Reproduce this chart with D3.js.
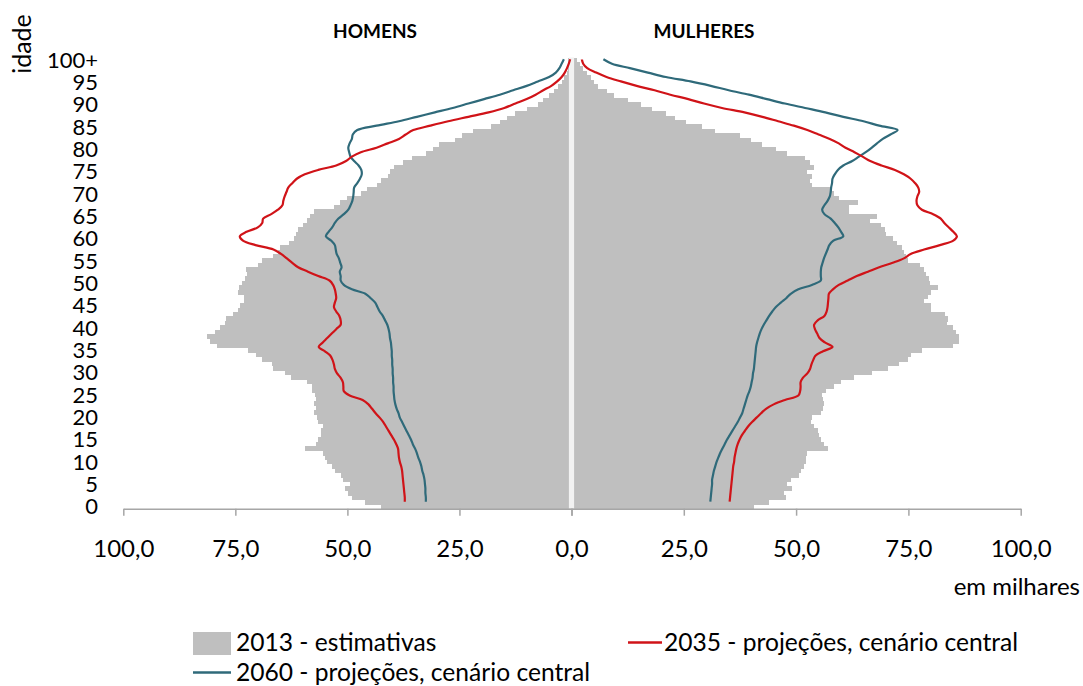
<!DOCTYPE html>
<html><head><meta charset="utf-8">
<script src="https://cdn.jsdelivr.net/npm/d3@7"></script>
<style>
body{margin:0;background:#fff;}
svg{display:block;font-family:Lato,"Open Sans",sans-serif;}
</style>
</head><body>
<svg id="chart" width="1083" height="686"></svg>
<script>
// ---------- data (milhares) ----------
const ages = d3.range(0, 101);               // 0 ... 100+
const ageTickValues = d3.range(0, 101, 5);
const ageTickLabels = ageTickValues.map(a => a === 100 ? "100+" : String(a));
const xTickValues = [0, 25, 50, 75, 100];

const homens2013 = [
 42.4,46.1,49.0,49.8,50.5,49.5,51.0,51.5,52.8,53.5,
 54.5,55.0,55.5,59.5,57.0,56.5,55.8,56.0,55.5,56.5,
 56.8,57.5,57.0,57.5,57.0,57.3,57.8,58.0,59.0,62.5,
 64.0,66.5,66.8,69.0,70.3,72.2,79.2,80.7,81.4,79.6,
 78.5,77.4,77.0,75.5,74.5,74.0,73.0,73.0,74.4,74.2,
 73.5,72.8,72.5,72.7,70.0,69.0,66.5,65.5,65.0,63.0,
 62.0,61.5,61.0,60.0,59.0,58.3,57.5,53.0,51.7,50.0,
 47.0,45.7,43.5,42.4,41.0,40.5,39.5,37.5,35.5,32.5,
 31.0,29.5,26.0,24.5,22.0,18.0,16.0,14.5,12.5,10.0,
 7.5,6.3,5.0,3.8,3.0,2.2,1.6,1.1,0.8,0.5,
 0.8];
const mulheres2013 = [
 40.6,44.0,47.8,47.3,49.1,48.0,48.8,50.6,51.0,51.7,
 52.2,52.2,52.5,57.0,56.2,55.5,55.0,54.8,54.0,53.3,
 53.5,55.5,56.0,56.3,56.0,55.8,56.6,58.5,60.0,63.0,
 67.0,70.5,73.0,74.8,75.5,78.0,85.0,86.3,86.3,85.6,
 85.0,83.5,83.9,83.1,80.0,80.0,78.5,79.3,80.0,81.6,
 79.8,79.5,79.0,78.5,77.5,75.0,74.5,74.0,73.5,72.5,
 71.5,70.0,69.8,68.8,66.5,68.0,61.8,61.8,63.7,59.5,
 58.5,58.0,53.5,53.0,53.5,52.5,54.0,53.0,52.0,48.0,
 45.5,42.5,40.0,37.5,32.0,29.0,25.5,23.0,21.0,18.0,
 15.5,12.5,9.5,8.0,6.0,5.0,4.3,3.5,2.6,1.8,
 1.2];
const homens2035 = [
 37.2,37.2,37.3,37.4,37.5,37.6,37.7,37.8,38.0,38.3,
 38.5,38.6,38.7,39.1,39.6,40.2,40.8,41.4,42.0,42.8,
 43.7,44.5,45.3,46.6,49.5,50.8,50.9,51.0,51.5,52.3,
 52.8,53.0,53.3,53.8,55.0,56.4,55.5,54.5,53.5,52.5,
 51.5,51.5,51.8,52.5,53.0,52.8,52.5,52.6,52.8,53.2,
 54.0,56.5,58.8,61.0,62.3,63.5,64.8,66.5,70.5,73.3,
 74.0,72.5,70.0,69.0,68.8,67.0,65.5,64.5,64.3,64.0,
 63.6,63.2,62.3,61.3,59.5,56.5,52.5,50.3,49.0,47.0,
 43.5,41.0,38.5,37.0,35.3,31.5,27.5,23.0,18.5,15.0,
 12.5,10.0,8.0,6.3,4.5,3.2,2.2,1.5,1.0,0.6,
 0.3];
const mulheres2035 = [
 35.2,35.3,35.4,35.5,35.6,35.7,35.8,35.9,36.0,36.2,
 36.3,36.5,36.7,37.0,37.4,37.9,38.6,39.3,40.2,41.2,
 42.2,43.3,45.0,47.5,50.5,50.9,51.0,51.0,51.5,52.5,
 53.1,53.4,53.8,54.3,56.0,58.1,56.4,55.2,54.7,54.2,
 54.0,54.8,56.3,56.8,57.0,57.1,57.2,57.3,58.2,59.5,
 61.5,63.5,66.0,68.5,71.5,74.0,75.5,78.5,82.0,85.0,
 85.8,85.0,84.0,83.0,82.2,80.5,78.0,77.0,76.8,77.0,
 77.4,77.2,76.5,75.5,74.0,72.0,69.0,66.5,64.8,63.0,
 61.0,59.5,57.5,55.0,52.5,49.5,46.0,42.5,38.5,33.5,
 29.5,26.0,22.0,18.5,14.5,11.0,7.8,5.5,3.5,2.6,
 2.3];
const homens2060 = [
 32.5,32.5,32.6,32.6,32.7,32.8,33.0,33.3,33.5,33.8,
 34.2,34.5,34.9,35.4,35.8,36.3,36.8,37.3,37.8,38.3,
 38.6,39.0,39.3,39.5,39.6,39.7,39.7,39.8,39.8,39.9,
 39.9,40.0,40.0,40.1,40.1,40.2,40.3,40.5,40.6,40.8,
 41.1,41.6,42.1,42.8,43.3,43.8,44.8,46.0,49.0,50.8,
 51.5,51.5,51.7,51.3,51.6,51.9,52.4,52.6,52.8,53.6,
 54.8,54.2,53.4,52.8,52.0,50.8,49.8,49.3,48.9,48.7,
 48.6,48.5,47.8,47.2,46.8,46.9,47.5,48.5,49.3,49.6,
 49.8,49.5,49.0,48.8,47.8,43.5,38.5,34.5,30.5,26.5,
 23.0,19.5,16.0,13.0,10.0,7.5,5.0,3.5,2.7,2.2,
 1.7];
const mulheres2060 = [
 30.9,31.0,31.1,31.2,31.3,31.3,31.5,31.7,32.0,32.3,
 32.7,33.1,33.6,34.1,34.6,35.2,35.8,36.4,37.0,37.5,
 38.0,38.3,38.6,38.9,39.2,39.6,39.9,40.1,40.3,40.4,
 40.6,40.7,40.8,40.9,41.0,41.1,41.3,41.6,41.9,42.3,
 42.8,43.4,44.0,44.7,45.5,46.6,47.8,48.8,50.5,53.5,
 55.5,55.5,55.5,55.6,55.9,56.2,56.6,57.0,57.4,58.3,
 60.5,60.0,59.4,58.6,57.7,56.3,55.8,56.3,57.0,57.5,
 57.7,57.8,58.0,58.1,58.6,59.3,60.5,62.5,64.0,65.5,
 66.8,68.0,69.3,71.0,72.6,68.5,65.0,60.5,56.5,52.0,
 47.5,43.5,39.5,35.0,31.0,26.5,21.0,17.0,13.0,9.0,
 7.1];

const txt = {
  yTitle: "idade", left: "HOMENS", right: "MULHERES", unit: "em milhares",
  s2013: "2013 - estimativas",
  s2035: "2035 - projeções, cenário central",
  s2060: "2060 - projeções, cenário central"
};
const colors = { bar: "#bfbfbf", c2035: "#d01318", c2060: "#2f6a7a", axis: "#a6a6a6", stripe: "#f2f2f2" };

// ---------- scales ----------
const svg = d3.select("#chart");
svg.append("rect").attr("width",1083).attr("height",686).attr("fill","#fff");

const x0 = 571.5;
const xL = d3.scaleLinear().domain([0,100]).range([x0, 123.3]);
const xR = d3.scaleLinear().domain([0,100]).range([x0, 1020.7]);
const yB = d3.scaleBand().domain(ages).range([508.5, 57.5]).padding(0);
const yLn = d3.scaleLinear().domain([0,100]).range([501.7, 59.3]);
const bw = yB.bandwidth();

// ---------- bars ----------
const gBars = svg.append("g").attr("shape-rendering","crispEdges");
gBars.selectAll("rect.l").data(homens2013).join("rect").attr("class","l")
  .attr("x", d => xL(d)).attr("width", d => xL(0) - xL(d))
  .attr("y", (d,i) => yB(i)).attr("height", bw + 0.6).attr("fill", colors.bar);
gBars.selectAll("rect.r").data(mulheres2013).join("rect").attr("class","r")
  .attr("x", xR(0)).attr("width", d => xR(d) - xR(0))
  .attr("y", (d,i) => yB(i)).attr("height", bw + 0.6).attr("fill", colors.bar);
// centre stripe
svg.append("rect").attr("x", x0 - 2.6).attr("width", 5.2)
  .attr("y", yB(100)).attr("height", yB(0) + bw - yB(100)).attr("fill", colors.stripe);

// ---------- lines ----------
const lineL = d3.line().x(d => xL(d)).y((d,i) => yLn(i)).curve(d3.curveCatmullRom.alpha(0.5));
const lineR = d3.line().x(d => xR(d)).y((d,i) => yLn(i)).curve(d3.curveCatmullRom.alpha(0.5));
[[homens2060, lineL, colors.c2060],[mulheres2060, lineR, colors.c2060],
 [homens2035, lineL, colors.c2035],[mulheres2035, lineR, colors.c2035]].forEach(([d, gen, c]) => {
  svg.append("path").attr("d", gen(d)).attr("fill","none").attr("stroke", c)
    .attr("stroke-width", 2.2).attr("stroke-linejoin","round");
});

// ---------- x axis ----------
const fmt = v => d3.format(".1f")(v).replace(".", ",");
function styleAxis(g){
  g.select(".domain").attr("stroke", colors.axis).attr("stroke-width", 1.5);
  g.selectAll(".tick line").attr("stroke", colors.axis).attr("stroke-width", 1.5);
  g.selectAll(".tick text").attr("y", 48).attr("dy", 0)
    .attr("font-size", 24).attr("fill", "#000").attr("font-family","Lato,'Open Sans',sans-serif");
}
const axL = svg.append("g").attr("transform","translate(0,508.7)")
  .call(d3.axisBottom(xL).tickValues(xTickValues).tickSize(7).tickSizeOuter(0).tickFormat(fmt));
styleAxis(axL);
const axR = svg.append("g").attr("transform","translate(0,508.7)")
  .call(d3.axisBottom(xR).tickValues(xTickValues).tickSize(7).tickSizeOuter(0).tickFormat(fmt));
styleAxis(axR);
axR.selectAll(".tick").filter(d => d === 0).select("text").remove();

// ---------- y labels ----------
svg.append("g").selectAll("text").data(ageTickValues).join("text")
  .attr("x", 98).attr("y", d => yB(d) + bw/2).attr("dy", "0.36em")
  .attr("text-anchor","end").attr("font-size", 22).attr("fill","#000")
  .text((d,i) => ageTickLabels[i]);

svg.append("text").attr("transform","translate(31,44) rotate(-90)")
  .attr("text-anchor","middle").attr("font-size", 25).attr("fill","#000").text(txt.yTitle);

svg.append("text").attr("x", 375).attr("y", 38).attr("text-anchor","middle")
  .attr("font-size", 19).attr("font-weight","bold").attr("fill","#000").text(txt.left);
svg.append("text").attr("x", 704).attr("y", 38).attr("text-anchor","middle")
  .attr("font-size", 19).attr("font-weight","bold").attr("fill","#000").text(txt.right);

svg.append("text").attr("x", 1080).attr("y", 595).attr("text-anchor","end")
  .attr("font-size", 24).attr("fill","#000").text(txt.unit);

// ---------- legend ----------
const lg = svg.append("g").attr("font-size", 24.6).attr("fill","#000");
lg.append("rect").attr("x",193).attr("y",632).attr("width",38).attr("height",23).attr("fill",colors.bar);
lg.append("text").attr("x",236).attr("y",651).text(txt.s2013);
lg.append("line").attr("x1",628).attr("x2",662).attr("y1",642.5).attr("y2",642.5)
  .attr("stroke",colors.c2035).attr("stroke-width",2.5);
lg.append("text").attr("x",664).attr("y",651).text(txt.s2035);
lg.append("line").attr("x1",193).attr("x2",231).attr("y1",672.5).attr("y2",672.5)
  .attr("stroke",colors.c2060).attr("stroke-width",2.5);
lg.append("text").attr("x",236).attr("y",681).text(txt.s2060);
</script>
</body></html>
